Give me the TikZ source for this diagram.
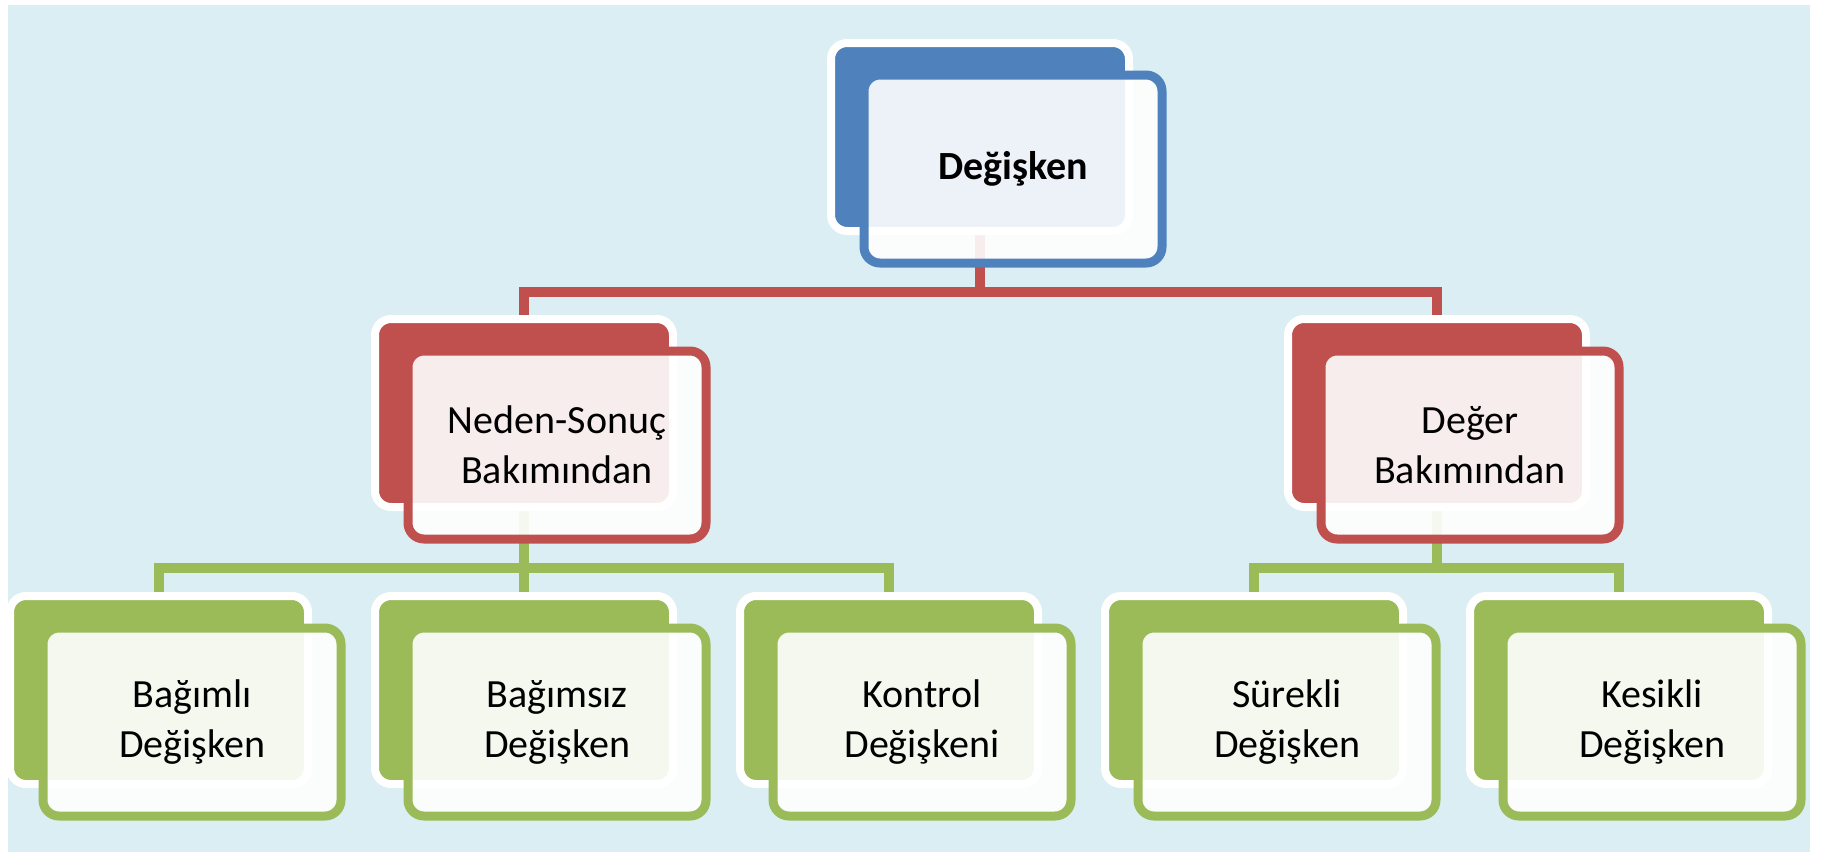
\documentclass[tikz,border=0pt]{standalone}
\usepackage{fontspec}
\setmainfont{Carlito}
\usepackage{xcolor}
\usepackage{tikz}
\usetikzlibrary{positioning}

\definecolor{bgblue}{HTML}{DAEEF3}
\definecolor{topblue}{HTML}{4F81BD}
\definecolor{midred}{HTML}{C0504D}
\definecolor{lowgreen}{HTML}{9BBB59}

\pgfdeclarelayer{behind}
\pgfsetlayers{behind,main}

\begin{document}
\begin{tikzpicture}[x=0.5pt, y=-0.5pt,
  backbox/.style={rectangle, rounded corners=8pt, draw=white, line width=4pt,
    fill=#1, minimum width=149pt, minimum height=94pt},
  frontbox/.style={rectangle, rounded corners=8pt, draw=#1, line width=4.5pt,
    fill=white, fill opacity=0.9, text opacity=1, minimum width=149pt,
    minimum height=94pt, align=center, font=\fontsize{20}{25}\selectfont},
  bus/.style={draw=#1, line width=5pt}]
  \useasboundingbox (0,0) rectangle (1827,852);

  % back boxes
  \node[backbox=topblue] (DegBack) at (980,137) {};
  \node[backbox=midred] (NedenBack) at (524,413) {};
  \node[backbox=midred] (DegerBack) at (1437,413) {};
  \node[backbox=lowgreen] (BagliBack) at (159,690) {};
  \node[backbox=lowgreen] (BagsizBack) at (524,690) {};
  \node[backbox=lowgreen] (KontrolBack) at (889,690) {};
  \node[backbox=lowgreen] (SurekliBack) at (1254,690) {};
  \node[backbox=lowgreen] (KesikliBack) at (1619,690) {};

  % connectors, behind the boxes
  \coordinate (RedBus) at (980,292);
  \coordinate (GreenBusL) at (524,568);
  \coordinate (GreenBusR) at (1437,568);
  \begin{pgfonlayer}{behind}
    \fill[bgblue] (8,5) rectangle (1810,852);
    \draw[bus=midred] (DegBack.center) -- (RedBus);
    \draw[bus=midred] (NedenBack.center) |- (RedBus) -| (DegerBack.center);
    \draw[bus=lowgreen] (NedenBack.center) -- (BagsizBack.center);
    \draw[bus=lowgreen] (BagliBack.center) |- (GreenBusL) -| (KontrolBack.center);
    \draw[bus=lowgreen] (DegerBack.center) -- (GreenBusR);
    \draw[bus=lowgreen] (SurekliBack.center) |- (GreenBusR) -| (KesikliBack.center);
  \end{pgfonlayer}

  % front boxes
  \node[frontbox=topblue] (Deg) at (1013,169) {\bfseries Değişken};
  \node[frontbox=midred] (Neden) at (557,445) {Neden-Sonuç\\Bakımından};
  \node[frontbox=midred] (Deger) at (1470,445) {Değer\\Bakımından};
  \node[frontbox=lowgreen] (Bagli) at (192,722) {Bağımlı\\Değişken};
  \node[frontbox=lowgreen] (Bagsiz) at (557,722) {Bağımsız\\Değişken};
  \node[frontbox=lowgreen] (Kontrol) at (922,722) {Kontrol\\Değişkeni};
  \node[frontbox=lowgreen] (Surekli) at (1287,722) {Sürekli\\Değişken};
  \node[frontbox=lowgreen] (Kesikli) at (1652,722) {Kesikli\\Değişken};
\end{tikzpicture}
\end{document}
